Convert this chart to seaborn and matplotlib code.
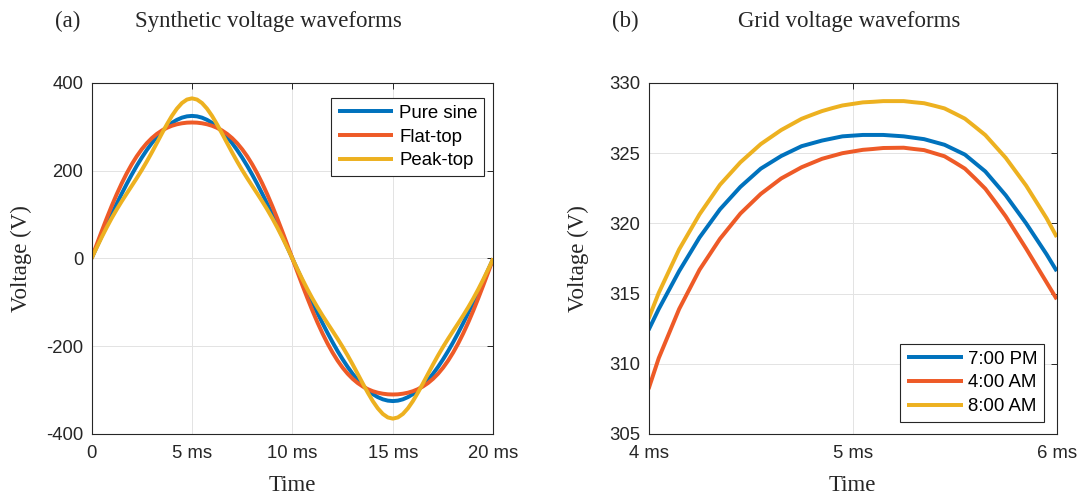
import numpy as np
import pandas as pd
import matplotlib
matplotlib.use("Agg")
import matplotlib.pyplot as plt
import seaborn as sns

# ---------------- data ----------------
# Panel (a): synthetic waveforms, time in ms
t_synth = [0.0, 0.25, 0.5, 0.75, 1.0, 1.25, 1.5, 1.75, 2.0, 2.25, 2.5, 2.75, 3.0, 3.25, 3.5, 3.75,
           4.0, 4.25, 4.5, 4.75, 5.0, 5.25, 5.5, 5.75, 6.0, 6.25, 6.5, 6.75, 7.0, 7.25, 7.5, 7.75,
           8.0, 8.25, 8.5, 8.75, 9.0, 9.25, 9.5, 9.75, 10.0, 10.25, 10.5, 10.75, 11.0, 11.25, 11.5,
           11.75, 12.0, 12.25, 12.5, 12.75, 13.0, 13.25, 13.5, 13.75, 14.0, 14.25, 14.5, 14.75, 15.0,
           15.25, 15.5, 15.75, 16.0, 16.25, 16.5, 16.75, 17.0, 17.25, 17.5, 17.75, 18.0, 18.25, 18.5,
           18.75, 19.0, 19.25, 19.5, 19.75, 20.0]
pure_sine = [0.0, 25.5, 50.8, 75.9, 100.4, 124.4, 147.5, 169.8, 191.0, 211.1, 229.8, 247.1, 262.9,
             277.1, 289.6, 300.3, 309.1, 316.0, 321.0, 324.0, 325.0,
             324.0, 321.0, 316.0, 309.1, 300.3, 289.6, 277.1, 262.9, 247.1, 229.8, 211.1, 191.0,
             169.8, 147.5, 124.4, 100.4, 75.9, 50.8, 25.5, 0.0,
             -25.5, -50.8, -75.9, -100.4, -124.4, -147.5, -169.8, -191.0, -211.1, -229.8, -247.1,
             -262.9, -277.1, -289.6, -300.3, -309.1, -316.0, -321.0, -324.0, -325.0,
             -324.0, -321.0, -316.0, -309.1, -300.3, -289.6, -277.1, -262.9, -247.1, -229.8, -211.1,
             -191.0, -169.8, -147.5, -124.4, -100.4, -75.9, -50.8, -25.5, 0.0]
flat_top = [0.0, 30.9, 61.3, 90.9, 119.3, 146.1, 171.0, 193.9, 214.5, 232.9, 248.9, 262.7, 274.3,
            283.9, 291.6, 297.8, 302.5, 305.9, 308.2, 309.6, 310.0,
            309.6, 308.2, 305.9, 302.5, 297.8, 291.6, 283.9, 274.3, 262.7, 248.9, 232.9, 214.5,
            193.9, 171.0, 146.1, 119.3, 90.9, 61.3, 30.9, 0.0,
            -30.9, -61.3, -90.9, -119.3, -146.1, -171.0, -193.9, -214.5, -232.9, -248.9, -262.7,
            -274.3, -283.9, -291.6, -297.8, -302.5, -305.9, -308.2, -309.6, -310.0,
            -309.6, -308.2, -305.9, -302.5, -297.8, -291.6, -283.9, -274.3, -262.7, -248.9, -232.9,
            -214.5, -193.9, -171.0, -146.1, -119.3, -90.9, -61.3, -30.9, 0.0]
peak_top = [0.0, 24.2, 47.8, 70.3, 91.6, 111.4, 130.1, 147.9, 165.4, 183.1, 201.5, 221.0, 241.6,
            263.0, 284.6, 305.6, 325.0, 341.5, 354.3, 362.3, 365.0,
            362.3, 354.3, 341.5, 325.0, 305.6, 284.6, 263.0, 241.6, 221.0, 201.5, 183.1, 165.4,
            147.9, 130.1, 111.4, 91.6, 70.3, 47.8, 24.2, 0.0,
            -24.2, -47.8, -70.3, -91.6, -111.4, -130.1, -147.9, -165.4, -183.1, -201.5, -221.0,
            -241.6, -263.0, -284.6, -305.6, -325.0, -341.5, -354.3, -362.3, -365.0,
            -362.3, -354.3, -341.5, -325.0, -305.6, -284.6, -263.0, -241.6, -221.0, -201.5, -183.1,
            -165.4, -147.9, -130.1, -111.4, -91.6, -70.3, -47.8, -24.2, 0.0]
synth_names = ["Pure sine", "Flat-top", "Peak-top"]
synth_xticks = [0, 5, 10, 15, 20]
synth_xticklabels = ["0", "5 ms", "10 ms", "15 ms", "20 ms"]
synth_yticks = [-400, -200, 0, 200, 400]

# Panel (b): measured grid waveforms, time in ms
t_grid = [4.0, 4.05, 4.1, 4.15, 4.2, 4.25, 4.3, 4.35, 4.4, 4.45, 4.5, 4.55, 4.6, 4.65, 4.7, 4.75,
          4.8, 4.85, 4.9, 4.95, 5.0, 5.05, 5.1, 5.15, 5.2, 5.25, 5.3, 5.35, 5.4, 5.45, 5.5, 5.55,
          5.6, 5.65, 5.7, 5.75, 5.8, 5.85, 5.9, 5.95, 6.0]
pm7 = [312.4, 313.9, 315.25, 316.6, 317.8, 319.0, 320.0, 321.0, 321.8, 322.6, 323.25, 323.9,
       324.35, 324.8, 325.15, 325.5, 325.7, 325.9, 326.05, 326.2, 326.25, 326.3, 326.3, 326.3,
       326.25, 326.2, 326.1, 326.0, 325.8, 325.6, 325.25, 324.9, 324.3, 323.7, 322.85, 322.0,
       321.0, 320.0, 318.9, 317.8, 316.6]
am4 = [308.2, 310.4, 312.15, 313.9, 315.3, 316.7, 317.8, 318.9, 319.8, 320.7, 321.4, 322.1,
       322.65, 323.2, 323.6, 324.0, 324.3, 324.6, 324.8, 325.0, 325.12, 325.24, 325.3, 325.37,
       325.38, 325.39, 325.3, 325.22, 325.0, 324.78, 324.35, 323.9, 323.2, 322.47, 321.5, 320.5,
       319.35, 318.2, 317.0, 315.8, 314.6]
am8 = [313.2, 315.05, 316.6, 318.15, 319.4, 320.65, 321.7, 322.75, 323.55, 324.35, 325.0, 325.65,
       326.15, 326.65, 327.05, 327.45, 327.73, 328.0, 328.21, 328.4, 328.51, 328.62, 328.66,
       328.71, 328.71, 328.71, 328.63, 328.56, 328.38, 328.19, 327.83, 327.46, 326.88, 326.29,
       325.48, 324.67, 323.68, 322.69, 321.53, 320.37, 319.03]
grid_names = ["7:00 PM", "4:00 AM", "8:00 AM"]
grid_xticks = [4, 5, 6]
grid_xticklabels = ["4 ms", "5 ms", "6 ms"]
grid_yticks = [305, 310, 315, 320, 325, 330]

colors = ["#0072BD", "#EE5A27", "#EDB120"]

# ---------------- frames ----------------
df_a = pd.concat([
    pd.DataFrame({"Time": t_synth, "Voltage": v, "Waveform": n})
    for v, n in zip([pure_sine, flat_top, peak_top], synth_names)
], ignore_index=True)
df_b = pd.concat([
    pd.DataFrame({"Time": t_grid, "Voltage": v, "Waveform": n})
    for v, n in zip([pm7, am4, am8], grid_names)
], ignore_index=True)

# ---------------- style ----------------
sns.set_theme(style="white")
plt.rcParams["font.family"] = ["Liberation Sans", "DejaVu Sans"]
plt.rcParams["axes.unicode_minus"] = False

SERIF = ["Liberation Serif", "DejaVu Serif"]
DARK = "#262626"

fig = plt.figure(figsize=(10.78, 4.97), dpi=100)
ax1 = fig.add_axes([0.0849, 0.1268, 0.3727, 0.7062])
ax2 = fig.add_axes([0.6016, 0.1268, 0.3787, 0.7062])

lw = 2.85
line_kw = dict(linewidth=lw, sort=False, estimator=None,
               solid_joinstyle="round", solid_capstyle="butt")
sns.lineplot(data=df_a, x="Time", y="Voltage", hue="Waveform", hue_order=synth_names,
             palette=colors, ax=ax1, **line_kw)
sns.lineplot(data=df_b, x="Time", y="Voltage", hue="Waveform", hue_order=grid_names,
             palette=colors, ax=ax2, **line_kw)

def style_axes(ax, xticks, xticklabels, yticks, xlim, ylim):
    ax.set_xlim(*xlim)
    ax.set_ylim(*ylim)
    ax.set_xticks(xticks)
    ax.set_xticklabels(xticklabels)
    ax.set_yticks(yticks)
    ax.set_yticklabels([str(v) for v in yticks])
    ax.grid(True, color="#E3E3E3", linewidth=0.7)
    ax.set_axisbelow(True)
    for s in ax.spines.values():
        s.set_visible(True)
        s.set_color(DARK)
        s.set_linewidth(0.8)
    ax.tick_params(direction="in", length=4, width=0.7, top=True, right=True,
                   colors=DARK, labelsize=13.3, pad=6)
    ax.tick_params(axis="x", pad=8)
    ax.set_xlabel("Time", fontfamily=SERIF, fontsize=16.5, color=DARK)
    ax.set_ylabel("Voltage (V)", fontfamily=SERIF, fontsize=16.5, color=DARK)
    ax.xaxis.set_label_coords(0.5, -0.118)
    ax.yaxis.set_label_coords(-0.147, 0.5)

style_axes(ax1, synth_xticks, synth_xticklabels, synth_yticks, (0, 20), (-400, 400))
style_axes(ax2, grid_xticks, grid_xticklabels, grid_yticks, (4, 6), (305, 330))

leg_kw = dict(frameon=True, fancybox=False, edgecolor=DARK, framealpha=1,
              fontsize=13.4, handlelength=3.0, handletextpad=0.3, borderpad=0.35,
              labelspacing=0.36, borderaxespad=0)
h1, l1 = ax1.get_legend_handles_labels()
leg1 = ax1.legend(h1, l1, loc="upper right", bbox_to_anchor=(0.977, 0.956), **leg_kw)
h2, l2 = ax2.get_legend_handles_labels()
leg2 = ax2.legend(h2, l2, loc="lower right", bbox_to_anchor=(0.969, 0.035), **leg_kw)
for leg in (leg1, leg2):
    leg.get_frame().set_linewidth(0.8)
    for line in leg.get_lines():
        line.set_linewidth(lw)
    for txt in leg.get_texts():
        txt.set_color("black")

# titles
ty = 1 - 27 / 497
fig.text(67.6 / 1078, ty, "(a)", ha="center", va="baseline", fontfamily=SERIF, fontsize=16.5, color=DARK)
fig.text(268.7 / 1078, ty, "Synthetic voltage waveforms", ha="center", va="baseline",
         fontfamily=SERIF, fontsize=16.5, color=DARK)
fig.text(625 / 1078, ty, "(b)", ha="center", va="baseline", fontfamily=SERIF, fontsize=16.5, color=DARK)
fig.text(848.7 / 1078, ty, "Grid voltage waveforms", ha="center", va="baseline",
         fontfamily=SERIF, fontsize=16.5, color=DARK)

fig.savefig("out.png", dpi=100, facecolor="white")
